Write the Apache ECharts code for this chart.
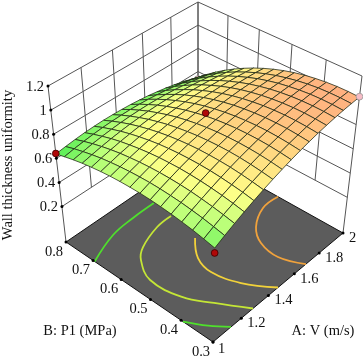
<!DOCTYPE html>
<html><head><meta charset="utf-8">
<style>html,body{margin:0;padding:0;background:#fff}#c{width:363px;height:359px}</style>
<script src="https://cdn.jsdelivr.net/npm/echarts@6/dist/echarts.min.js"></script>
</head><body><div id="c"></div>
<script>
const aTicks=[1,1.2,1.4,1.6,1.8,2];
const bTicks=[0.3,0.4,0.5,0.6,0.7,0.8];
const zTicks=[0.2,0.4,0.6,0.8,1,1.2];
const zFloor=-0.094, zTop=1.2;
const aLabels=['1','1.2','1.4','1.6','1.8','2'];
const bLabels=['0.3','0.4','0.5','0.6','0.7','0.8'];
const zLabels=['0.2','0.4','0.6','0.8','1','1.2'];
// rows: B = 0.3 ... 0.8 in 16 steps; columns: A = 1 ... 2 in 16 steps
const surfaceZ=[
[.666,.706,.744,.779,.812,.843,.871,.897,.921,.942,.961,.978,.992,1.004,1.014,1.021,1.026],
[.685,.724,.761,.795,.828,.857,.884,.909,.932,.952,.970,.986,.999,1.010,1.019,1.025,1.029],
[.702,.740,.775,.808,.839,.868,.894,.918,.940,.959,.976,.990,1.003,1.012,1.020,1.025,1.028],
[.715,.752,.786,.818,.848,.876,.901,.923,.944,.962,.977,.991,1.002,1.010,1.017,1.021,1.022],
[.726,.762,.795,.825,.854,.880,.904,.925,.944,.961,.975,.987,.997,1.004,1.009,1.012,1.012],
[.734,.768,.800,.829,.856,.881,.903,.923,.941,.956,.969,.980,.988,.994,.997,.999,.998],
[.739,.772,.802,.830,.855,.879,.899,.918,.934,.948,.959,.968,.975,.980,.982,.981,.979],
[.742,.773,.801,.827,.851,.873,.892,.909,.924,.936,.946,.953,.958,.961,.962,.960,.956],
[.741,.770,.797,.822,.844,.864,.881,.897,.910,.920,.928,.934,.938,.939,.938,.934,.928],
[.738,.765,.790,.813,.834,.852,.867,.881,.892,.901,.907,.911,.913,.912,.909,.904,.896],
[.732,.757,.780,.801,.820,.836,.850,.862,.871,.878,.882,.884,.884,.881,.877,.869,.860],
[.723,.746,.768,.786,.803,.817,.829,.839,.846,.851,.853,.853,.851,.847,.840,.831,.819],
[.711,.733,.752,.769,.783,.795,.805,.812,.818,.820,.821,.819,.815,.808,.799,.788,.774],
[.697,.716,.733,.748,.760,.770,.777,.783,.786,.786,.784,.780,.774,.765,.754,.741,.725],
[.679,.696,.711,.723,.733,.741,.746,.749,.750,.748,.744,.738,.729,.718,.705,.689,.671],
[.659,.674,.686,.696,.704,.709,.712,.713,.711,.707,.700,.692,.681,.667,.651,.633,.613],
[.636,.648,.658,.666,.671,.674,.674,.672,.668,.661,.653,.641,.628,.612,.594,.573,.550]
];
const contourGreenBack=[[1,.694],[1.198,.73],[1.36,.7385],[1.519,.7395]];
const contourGreenFront=[[1,.394],[1.06,.342],[1.126,.30]];
const contourLime=[[1.505,.6705],[1.394,.6675],[1.237,.6415],[1.163,.6125],[1.093,.5465],[1.114,.45],[1.188,.38],[1.285,.30]];
const contourYellow=[[1.464,.567],[1.365,.512],[1.335,.455],[1.376,.376],[1.473,.30]];
const contourOrange=[[2,.5125],[1.876,.513],[1.737,.479],[1.661,.431],[1.639,.367],[1.693,.30]];
const contourSets=[contourGreenBack,contourGreenFront,contourLime,contourYellow,contourOrange];
const contourColors=['#4fe02c','#4fe02c','#c4e636','#f2d23a','#f0a23c'];
const pointsBehind=[[2,.8,.535]];
const pointsFront=[[1,.8,.64],[1,.3,.626],[1.5,.55,.935],[2,.3,1.03]];
const pointColors=['#b00808','#b00808','#b00808','#f6bcc6'];
const zStops=[.55,.65,.73,.82,.95,1.05];
const surfaceColors=['#30c830','#5ef058','#b8ff78','#ffff88','#ffd080','#ffa880'];

function quad(p0,p1,p2,p3){
  const dx1=p1[0]-p2[0],dx2=p3[0]-p2[0],sx=p0[0]-p1[0]+p2[0]-p3[0];
  const dy1=p1[1]-p2[1],dy2=p3[1]-p2[1],sy=p0[1]-p1[1]+p2[1]-p3[1];
  const den=dx1*dy2-dx2*dy1;
  const g=(sx*dy2-dx2*sy)/den,h=(dx1*sy-sx*dy1)/den;
  return (u,v)=>{const w=g*u+h*v+1;return [((p1[0]-p0[0]+g*p1[0])*u+(p3[0]-p0[0]+h*p3[0])*v+p0[0])/w,((p1[1]-p0[1]+g*p1[1])*u+(p3[1]-p0[1]+h*p3[1])*v+p0[1])/w];};
}
const floorMap=quad([213,342],[343,233],[198,152],[66,242]);
const topMap=quad([216,182],[362,76],[198,2],[48,86]);
function proj(A,B,z){
  const u=A-1,v=(B-.3)/.5,w=(z-zFloor)/(zTop-zFloor);
  const f=floorMap(u,v),t=topMap(u,v);
  return [f[0]+(t[0]-f[0])*w,f[1]+(t[1]-f[1])*w];
}
function colorOf(z){
  let k=0;
  while(k<zStops.length-2&&z>zStops[k+1])k++;
  const t=Math.max(0,Math.min(1,(z-zStops[k])/(zStops[k+1]-zStops[k])));
  return echarts.color.lerp(t,[surfaceColors[k],surfaceColors[k+1]]);
}
function custom(items,draw,extra){
  return Object.assign({type:'custom',coordinateSystem:'cartesian2d',silent:true,clip:false,animation:false,
    data:items.map((_,i)=>[i,0]),
    renderItem:(params,api)=>draw(items[params.dataIndex],params.dataIndex,(p)=>api.coord(proj(p[0],p[1],p[2])))},extra||{});
}
const wallLines=[];
zTicks.forEach(z=>{wallLines.push([[1,.8,z],[2,.8,z]]);wallLines.push([[2,.8,z],[2,.3,z]]);});
aTicks.forEach(a=>wallLines.push([[a,.8,a===1||a===2?zFloor:.2],[a,.8,zTop]]));
bTicks.forEach(b=>wallLines.push([[2,b,b===.3?zFloor:.2],[2,b,zTop]]));
const nCells=surfaceZ.length-1;
const cells=[];
for(let j=nCells-1;j>=0;j--)for(let i=nCells-1;i>=0;i--)cells.push([i,j]);
const serif='"Liberation Serif","Times New Roman",serif';
const tickDots=[];
zTicks.forEach(z=>tickDots.push([1,.8,z]));
bTicks.forEach(b=>tickDots.push([1,b,zFloor]));
aTicks.forEach(a=>tickDots.push([a,.3,zFloor]));
const tickTexts=[];
zTicks.forEach((z,k)=>tickTexts.push({p:[1,.8,z],t:zLabels[k],dx:-4,dy:1,al:'right'}));
bTicks.forEach((b,k)=>tickTexts.push({p:[1,b,zFloor],t:bLabels[k],dx:-3,dy:10,al:'right'}));
aTicks.forEach((a,k)=>tickTexts.push({p:[a,.3,zFloor],t:aLabels[k],dx:k===0?5:6,dy:k===0?7:5,al:'left'}));
const circle=(c,fill,stroke)=>({type:'circle',shape:{cx:c[0],cy:c[1],r:3.4},style:{fill:fill,stroke:stroke,lineWidth:.8}});
const option={
  animation:false,
  grid:{left:0,right:0,top:0,bottom:0,show:false},
  xAxis:{type:'value',min:0,max:363,show:false},
  yAxis:{type:'value',min:0,max:359,inverse:true,show:false},
  graphic:[
    {type:'text',x:8,y:165,rotation:Math.PI/2,style:{text:'Wall thickness uniformity',font:'14.5px '+serif,fill:'#111',align:'center',verticalAlign:'middle'}},
    {type:'text',x:80,y:331,style:{text:'B: P1 (MPa)',font:'14.5px '+serif,fill:'#111',align:'center',verticalAlign:'middle'}},
    {type:'text',x:323,y:331,style:{text:'A: V (m/s)',font:'14.5px '+serif,fill:'#111',align:'center',verticalAlign:'middle'}}
  ],
  series:[
    custom([[[1,.3,zFloor],[2,.3,zFloor],[2,.8,zFloor],[1,.8,zFloor]]],(q,i,map)=>({type:'polygon',shape:{points:q.map(map)},style:{fill:'#5c5c5c',stroke:'#111',lineWidth:1}})),
    custom(contourSets,(c,i,map)=>({type:'polyline',shape:{points:c.map(p=>map([p[0],p[1],zFloor])),smooth:.4},style:{fill:null,stroke:contourColors[i],lineWidth:1.8}})),
    custom(wallLines,(l,i,map)=>{const a=map(l[0]),b=map(l[1]);return {type:'line',shape:{x1:a[0],y1:a[1],x2:b[0],y2:b[1]},style:{stroke:'#555',lineWidth:1}};}),
    custom(pointsBehind,(p,i,map)=>circle(map(p),'#f6bcc6','#888')),
    custom(cells,(c,k,map)=>{
      const i=c[0],j=c[1];
      const A=t=>1+t/nCells,B=t=>.3+.5*t/nCells;
      const z00=surfaceZ[j][i],z10=surfaceZ[j][i+1],z11=surfaceZ[j+1][i+1],z01=surfaceZ[j+1][i];
      return {type:'polygon',shape:{points:[map([A(i),B(j),z00]),map([A(i+1),B(j),z10]),map([A(i+1),B(j+1),z11]),map([A(i),B(j+1),z01])]},
        style:{fill:colorOf((z00+z10+z11+z01)/4),stroke:'rgba(30,40,20,.85)',lineWidth:.9,lineJoin:'round'}};
    }),
    custom(pointsFront,(p,i,map)=>circle(map(p),pointColors[i],i===3?'#999':'#3a0000')),
    custom(tickDots,(p,i,map)=>{const c=map(p);return {type:'circle',shape:{cx:c[0],cy:c[1],r:1.5},style:{fill:'#000'}};}),
    custom(tickTexts,(t,i,map)=>{const c=map(t.p);return {type:'text',x:c[0]+t.dx,y:c[1]+t.dy,style:{text:t.t,font:'14.5px '+serif,fill:'#111',align:t.al,verticalAlign:'middle'}};})
  ]
};
echarts.init(document.getElementById('c'),null,{renderer:'canvas'}).setOption(option);
</script></body></html>
